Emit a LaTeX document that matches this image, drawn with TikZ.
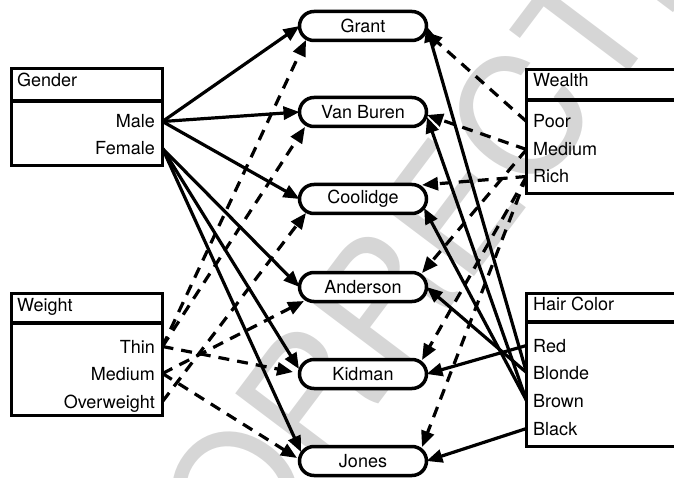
\documentclass[tikz,border=0pt]{standalone}
\usepackage{fontspec}
\setmainfont{TeX Gyre Heros}
\usetikzlibrary{arrows.meta,calc}

\begin{document}
\begin{tikzpicture}[x=1pt,y=-1pt,
  every node/.style={font=\fontsize{18}{20}\selectfont},
  panel/.style={draw, line width=3.5pt, inner sep=0pt, outer sep=0pt, anchor=north west},
  rule/.style={line width=3.5pt},
  person/.style={draw, line width=3.5pt, rounded corners=14.5pt, minimum width=127pt,
    minimum height=29pt, inner sep=0pt, outer sep=0pt, fill=white},
  lbl/.style={inner sep=0pt},
  link/.style={line width=3.2pt, -{Triangle[length=16pt,width=13pt]}},
  dlink/.style={link, dash pattern=on 11pt off 8pt},
  stamp/.style={text=black!16, rotate=53, inner sep=0pt, font=\fontsize{165}{165}\selectfont}
]
\useasboundingbox (0,0) rectangle (674,478);
\clip (0,0) rectangle (674,478);

% background stamp
\node[stamp] (mark) at (440,222) {CORRECTED};

% attribute panels
\node[panel, minimum width=151pt, minimum height=97pt]  (gbox) at (11.5,68.5) {};
\node[panel, minimum width=151pt, minimum height=122pt] (wbox) at (11.5,293.5) {};
\node[panel, minimum width=170pt, minimum height=124pt] (rbox) at (526.5,69.5) {};
\node[panel, minimum width=170pt, minimum height=153pt] (hbox) at (526.5,293.5) {};
\draw[rule] (gbox.west |- 0,101) -- (gbox.east |- 0,101);
\draw[rule] (wbox.west |- 0,323) -- (wbox.east |- 0,323);
\draw[rule] (rbox.west |- 0,100) -- (rbox.east |- 0,100);
\draw[rule] (hbox.west |- 0,322) -- (hbox.east |- 0,322);

% panel titles and values
\node[lbl, anchor=base west] (gtitle) at (17,87) {Gender};
\node[lbl, anchor=base east] (male)   at (155,128) {Male};
\node[lbl, anchor=base east] (female) at (155,155) {Female};

\node[lbl, anchor=base west] (wtitle) at (17,311) {Weight};
\node[lbl, anchor=base east] (thin)   at (155,353) {Thin};
\node[lbl, anchor=base east] (wmed)   at (155,380) {Medium};
\node[lbl, anchor=base east] (over)   at (155,408) {Overweight};

\node[lbl, anchor=base west] (rtitle) at (533,87) {Wealth};
\node[lbl, anchor=base west] (poor)   at (533,128) {Poor};
\node[lbl, anchor=base west] (rmed)   at (533,156) {Medium};
\node[lbl, anchor=base west] (rich)   at (533,183) {Rich};

\node[lbl, anchor=base west] (htitle) at (533,310) {Hair Color};
\node[lbl, anchor=base west] (red)    at (533,352) {Red};
\node[lbl, anchor=base west] (blonde) at (533,379) {Blonde};
\node[lbl, anchor=base west] (brown)  at (533,407) {Brown};
\node[lbl, anchor=base west] (black)  at (533,435) {Black};

% ports on the panel borders
\coordinate (pMale)   at (gbox.east |- 0,121.5);
\coordinate (pFemale) at (gbox.east |- 0,148.5);
\coordinate (pThin)   at (wbox.east |- 0,346.5);
\coordinate (pWMed)   at (wbox.east |- 0,373.5);
\coordinate (pOver)   at (wbox.east |- 0,401.5);
\coordinate (pPoor)   at (rbox.west |- 0,121.5);
\coordinate (pRMed)   at (rbox.west |- 0,149.5);
\coordinate (pRich)   at (rbox.west |- 0,176.5);
\coordinate (pRed)    at (hbox.west |- 0,345.5);
\coordinate (pBlonde) at (hbox.west |- 0,372.5);
\coordinate (pBrown)  at (hbox.west |- 0,400.5);
\coordinate (pBlack)  at (hbox.west |- 0,428.5);

% people
\node[person] (grant)    at (363,26)  {Grant};
\node[person] (vanburen) at (363,112) {Van Buren};
\node[person] (coolidge) at (363,199) {Coolidge};
\node[person] (anderson) at (363,287) {Anderson};
\node[person] (kidman)   at (363,374) {Kidman};
\node[person] (jones)    at (363,461) {Jones};

% gender
\draw[link] (pMale) -- (grant.west);
\draw[link] (pMale) -- (vanburen.west);
\draw[link] (pMale) -- (coolidge.west);
\draw[link] (pFemale) -- (anderson.west);
\draw[link] (pFemale) -- ($(kidman)+(-64,-5)$);
\draw[link] (pFemale) -- ($(jones)+(-62,-9)$);

% weight
\draw[dlink] (pThin) -- ($(grant)+(-57,14)$);
\draw[dlink] (pThin) -- ($(vanburen)+(-58,15)$);
\draw[dlink] (pThin) -- ($(kidman)+(-70,-2)$);
\draw[dlink] (pWMed) -- ($(anderson)+(-59,14)$);
\draw[dlink] (pWMed) -- ($(jones)+(-66,-3)$);
\draw[dlink] (pOver) -- ($(coolidge)+(-57,14)$);

% wealth
\draw[dlink] (pPoor) -- ($(grant)+(63,6)$);
\draw[dlink] (pRMed) -- ($(vanburen)+(64,3)$);
\draw[dlink] (pRMed) -- ($(anderson)+(59,-14)$);
\draw[dlink] (pRich) -- ($(coolidge)+(59,-14)$);
\draw[dlink] (pRich) -- ($(kidman)+(59,-14)$);
\draw[dlink] (pRich) -- ($(jones)+(59,-14)$);

% hair colour
\draw[link] (pBlonde) -- (grant.east);
\draw[link] (pBlonde) -- (anderson.east);
\draw[link] (pBrown) -- ($(vanburen)+(64,5)$);
\draw[link] (pBrown) -- ($(coolidge)+(61,9)$);
\draw[link] (pRed) -- (kidman.east);
\draw[link] (pBlack) -- (jones.east);
\end{tikzpicture}
\end{document}
